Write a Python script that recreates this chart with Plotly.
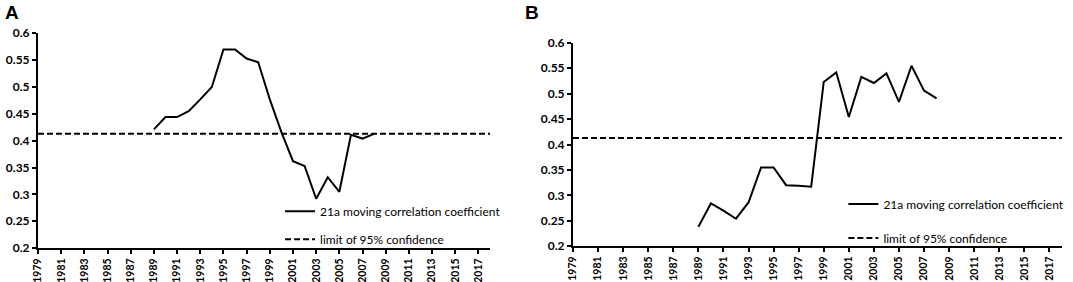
import plotly.graph_objects as go

years = list(range(1989, 2009))
corr_a = [0.421, 0.444, 0.444, 0.455, 0.477, 0.500, 0.570, 0.570, 0.553, 0.546,
          0.477, 0.416, 0.362, 0.353, 0.292, 0.332, 0.305, 0.411, 0.404, 0.413]
corr_b = [0.238, 0.284, 0.270, 0.254, 0.286, 0.355, 0.355, 0.320, 0.319, 0.317,
          0.523, 0.542, 0.454, 0.533, 0.521, 0.540, 0.484, 0.555, 0.506, 0.491]
conf_years = [1979, 2018]
conf_limit = [0.413, 0.413]
x_range = [1979, 2018]
y_range = [0.2, 0.6]
panel_labels = ["A", "B"]
name_line = "21a moving correlation coefficient"
name_conf = "limit of 95% confidence"

FONT = "Lato"
fig = go.Figure()

for i, (vals, lg) in enumerate([(corr_a, "legend"), (corr_b, "legend2")]):
    xa = "x" if i == 0 else "x2"
    ya = "y" if i == 0 else "y2"
    fig.add_trace(go.Scatter(x=years, y=vals, mode="lines", name=name_line,
                             line=dict(color="black", width=2), xaxis=xa, yaxis=ya,
                             legend=lg, legendgroup="a"))
    fig.add_trace(go.Scatter(x=conf_years, y=conf_limit, mode="lines", name=name_conf,
                             line=dict(color="black", width=2, dash="6px,3px"), xaxis=xa, yaxis=ya,
                             legend=lg, legendgroup="b"))

axis_common = dict(showgrid=False, zeroline=False, showline=True, linecolor="black",
                   linewidth=2, ticks="outside", ticklen=4, tickwidth=1.5, tickcolor="black",
                   automargin=False)
xcommon = dict(axis_common, range=x_range, tick0=1979, dtick=2, tickangle=-90,
               tickfont=dict(family=FONT, size=10.5, color="black", weight="bold"))
ycommon = dict(axis_common, range=y_range, dtick=0.05, tick0=0.2,
               tickfont=dict(family=FONT, size=12, color="black", weight="bold"))

fig.update_layout(
    width=1073, height=282, margin=dict(l=0, r=0, t=0, b=0),
    paper_bgcolor="white", plot_bgcolor="white",
    xaxis=dict(xcommon, domain=[0.0354, 0.4567], anchor="y"),
    yaxis=dict(ycommon, domain=[0.12, 0.882], anchor="x"),
    xaxis2=dict(xcommon, domain=[0.534, 0.9897], anchor="y2"),
    yaxis2=dict(ycommon, domain=[0.127, 0.848], anchor="x2"),
    legend=dict(x=0.261, y=0.302, xanchor="left", yanchor="top", bgcolor="rgba(0,0,0,0)",
                font=dict(family=FONT, size=12, color="black"), tracegroupgap=9, itemwidth=30),
    legend2=dict(x=0.786, y=0.328, xanchor="left", yanchor="top", bgcolor="rgba(0,0,0,0)",
                 font=dict(family=FONT, size=12, color="black"), tracegroupgap=15, itemwidth=30),
    showlegend=True,
)

fig.add_annotation(text="<b>%s</b>" % panel_labels[0], x=0.003, y=1.0, xref="paper", yref="paper",
                   xanchor="left", yanchor="top", showarrow=False,
                   font=dict(family="Liberation Sans", size=19, color="black"))
fig.add_annotation(text="<b>%s</b>" % panel_labels[1], x=0.487, y=1.0, xref="paper", yref="paper",
                   xanchor="left", yanchor="top", showarrow=False,
                   font=dict(family="Liberation Sans", size=19, color="black"))

fig.write_html("out.html", config={"displayModeBar": False},
               post_script="document.body.style.margin='0';document.body.style.padding='0';")
